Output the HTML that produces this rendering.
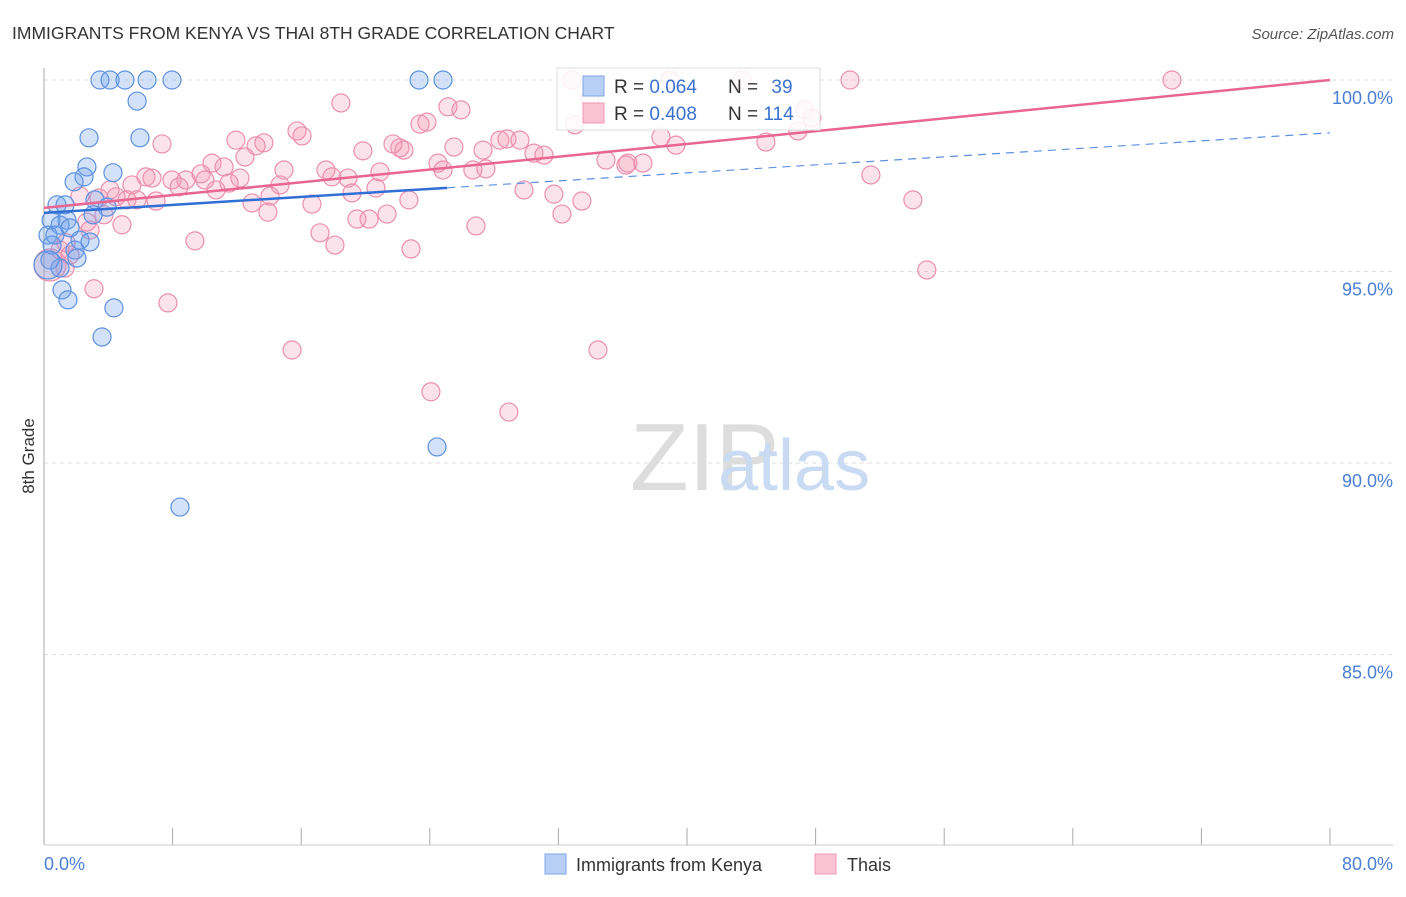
<!DOCTYPE html>
<html><head><meta charset="utf-8"><style>
body{margin:0;background:#fff;font-family:"Liberation Sans",sans-serif;}
svg text{font-family:"Liberation Sans",sans-serif;}
</style></head><body>
<svg width="1406" height="892" viewBox="0 0 1406 892">
<text x="12" y="39" font-size="17.5" fill="#333">IMMIGRANTS FROM KENYA VS THAI 8TH GRADE CORRELATION CHART</text>
<text x="1394" y="39" font-size="15" fill="#555" font-style="italic" text-anchor="end">Source: ZipAtlas.com</text>
<g id="grid"></g>
<g id="axes"></g>
<text x="630" y="490" font-size="96" fill="#ddd" font-family="Liberation Serif">ZIP</text>
<text x="718" y="490" font-size="72" fill="#c9daf3">atlas</text>
<g id="pts"></g>
<g id="lines"></g>
<text transform="translate(34,456) rotate(-90)" font-size="17" fill="#333" text-anchor="middle">8th Grade</text>
<text x="44" y="870" font-size="18" fill="#4a7fd6">0.0%</text>
<text x="1393" y="870" font-size="18" fill="#4a7fd6" text-anchor="end">80.0%</text>
<g>
<rect x="557" y="68" width="263" height="62" fill="#fff" fill-opacity="0.85" stroke="#ddd"/>
<rect x="583" y="76" width="21" height="20" fill="#b8d0f5" stroke="#7ea6e6"/>
<rect x="583" y="103" width="21" height="20" fill="#f9c3d3" stroke="#f09ab5"/>
<text x="614" y="93" font-size="19" fill="#333">R = <tspan fill="#3a72d0">0.064</tspan></text>
<text x="728" y="93" font-size="19" fill="#333">N = <tspan fill="#3a72d0" dx="8">39</tspan></text>
<text x="614" y="120" font-size="19" fill="#333">R = <tspan fill="#3a72d0">0.408</tspan></text>
<text x="728" y="120" font-size="19" fill="#333">N = <tspan fill="#3a72d0">114</tspan></text>
</g>
<g>
<rect x="545" y="854" width="21" height="20" fill="#b8d0f5" stroke="#7ea6e6"/>
<text x="576" y="871" font-size="18" fill="#333">Immigrants from Kenya</text>
<rect x="815" y="854" width="21" height="20" fill="#f9c3d3" stroke="#f09ab5"/>
<text x="847" y="871" font-size="18" fill="#333">Thais</text>
</g>
</svg>
<script>
const yTicks=[100,95,90,85];
const yTickLabels=["100.0%","95.0%","90.0%","85.0%"];
const xTicks=[0,8,16,24,32,40,48,56,64,72,80];
const kenyaX=[3.48,4.11,5.04,6.41,7.96,23.33,24.82,5.79,5.97,2.80,2.67,4.29,2.49,1.87,3.17,0.81,1.31,3.92,3.05,0.44,1.43,1.00,1.62,0.25,0.68,2.24,2.86,1.93,2.05,0.37,1.00,1.12,1.49,4.35,3.61,24.45,8.46,0.25,0.50];
const kenyaY=[100,100,100,100,100,100,100,99.45,98.49,98.49,97.73,97.58,97.47,97.34,96.87,96.74,96.74,96.68,96.48,96.34,96.34,96.21,96.14,95.95,95.95,95.82,95.77,95.56,95.35,95.30,95.09,94.52,94.26,94.05,93.29,90.42,88.85,95.17,95.69];
const thaiX=[32.84,38.94,43.42,50.14,70.17,18.47,25.13,25.94,33.96,47.33,47.77,23.39,23.82,33.03,15.74,16.05,38.38,11.94,7.34,13.68,13.19,22.14,21.71,22.39,27.31,19.84,25.50,28.36,28.80,29.61,30.48,31.10,39.31,46.90,44.91,12.50,34.96,36.32,37.26,10.45,24.51,17.54,14.93,11.20,24.82,26.68,27.49,20.90,18.91,17.91,6.34,7.96,8.83,9.77,10.01,8.40,4.11,5.47,6.72,12.19,14.68,11.51,10.70,20.65,19.16,29.86,31.72,51.44,36.20,4.48,5.16,5.78,6.97,3.42,2.24,12.94,14.06,16.67,22.70,33.46,54.05,13.93,3.73,19.47,20.22,21.34,32.22,26.87,4.85,17.17,9.39,18.10,22.83,2.67,2.86,1.37,1.00,1.62,1.31,3.11,54.92,7.71,15.43,34.46,24.07,28.92,0.37];
const thaiY=[100,100,100,100,100,99.40,99.30,99.22,99.53,99.22,99.01,98.85,98.90,98.83,98.67,98.54,98.51,98.43,98.33,98.36,98.28,98.23,98.33,98.17,98.17,98.15,98.25,98.43,98.46,98.43,98.09,98.04,98.30,98.67,98.38,97.99,97.91,97.83,97.83,97.83,97.83,97.65,97.65,97.73,97.65,97.65,97.68,97.60,97.44,97.47,97.47,97.39,97.39,97.55,97.39,97.21,97.13,97.26,97.44,97.44,97.26,97.31,97.13,97.18,97.05,97.13,97.02,97.52,97.78,96.95,96.87,96.87,96.84,96.92,96.97,96.79,96.97,96.76,96.87,96.84,96.87,96.55,96.48,96.37,96.37,96.50,96.50,96.19,96.22,96.01,95.80,95.69,95.59,96.29,96.08,95.75,95.56,95.43,95.09,94.55,95.04,94.18,92.95,92.95,91.86,91.33,95.17];
const kenyaTrend=[96.53,98.62]; // y at x=0 and x=80
const kenyaSolidEnd=25.07;
const thaiTrend=[96.66,100.0];

const X=v=>44+v*16.075, Y=v=>80+(100-v)*38.3;
const NS="http://www.w3.org/2000/svg";
function mk(t,a,p){const e=document.createElementNS(NS,t);for(const k in a)e.setAttribute(k,a[k]);p.appendChild(e);return e;}
const grid=document.getElementById('grid'),axes=document.getElementById('axes');
yTicks.forEach((t,i)=>{
 const l=mk('line',{x1:44,x2:1393,y1:Y(t),y2:Y(t),stroke:'#ddd','stroke-dasharray':'4,4'},grid);
 
 
 const tx=mk('text',{x:1393,y:Y(t)+24,'font-size':18,fill:'#4a7fd6','text-anchor':'end'},grid);
 tx.textContent=yTickLabels[i];
 
 
});
mk('line',{x1:44,x2:44,y1:68,y2:845,stroke:'#aaa'},axes);
mk('line',{x1:44,x2:1393,y1:845,y2:845,stroke:'#ccc'},axes);
xTicks.forEach(t=>{
 const l=mk('line',{x1:X(t),x2:X(t),y1:828,y2:845,stroke:'#aaa'},axes);
 
 
});
const pts=document.getElementById('pts');
thaiX.forEach((x,i)=>{
 const c=mk('circle',{cx:X(x),cy:Y(thaiY[i]),r:(i==thaiX.length-1?16:9),fill:'rgba(245,150,180,0.28)',stroke:'#eb8fae','stroke-width':1.2},pts);
 
 
});
kenyaX.forEach((x,i)=>{
 const c=mk('circle',{cx:X(x),cy:Y(kenyaY[i]),r:(i==37?14:9),fill:'rgba(110,160,235,0.3)',stroke:'#5d91e0','stroke-width':1.2},pts);
 
 
});
const lines=document.getElementById('lines');
const kAt=x=>kenyaTrend[0]+(kenyaTrend[1]-kenyaTrend[0])*x/80;
const k1=mk('line',{x1:X(0),y1:Y(kAt(0)),x2:X(kenyaSolidEnd),y2:Y(kAt(kenyaSolidEnd)),stroke:'#2f6fd6','stroke-width':2.5},lines);


const k2=mk('line',{x1:X(kenyaSolidEnd),y1:Y(kAt(kenyaSolidEnd)),x2:X(80),y2:Y(kAt(80)),stroke:'#5d91e0','stroke-width':1.2,'stroke-dasharray':'8,6'},lines);


const t1=mk('line',{x1:X(0),y1:Y(thaiTrend[0]),x2:X(80),y2:Y(thaiTrend[1]),stroke:'#e8668f','stroke-width':2.5},lines);


</script>
</body></html>
